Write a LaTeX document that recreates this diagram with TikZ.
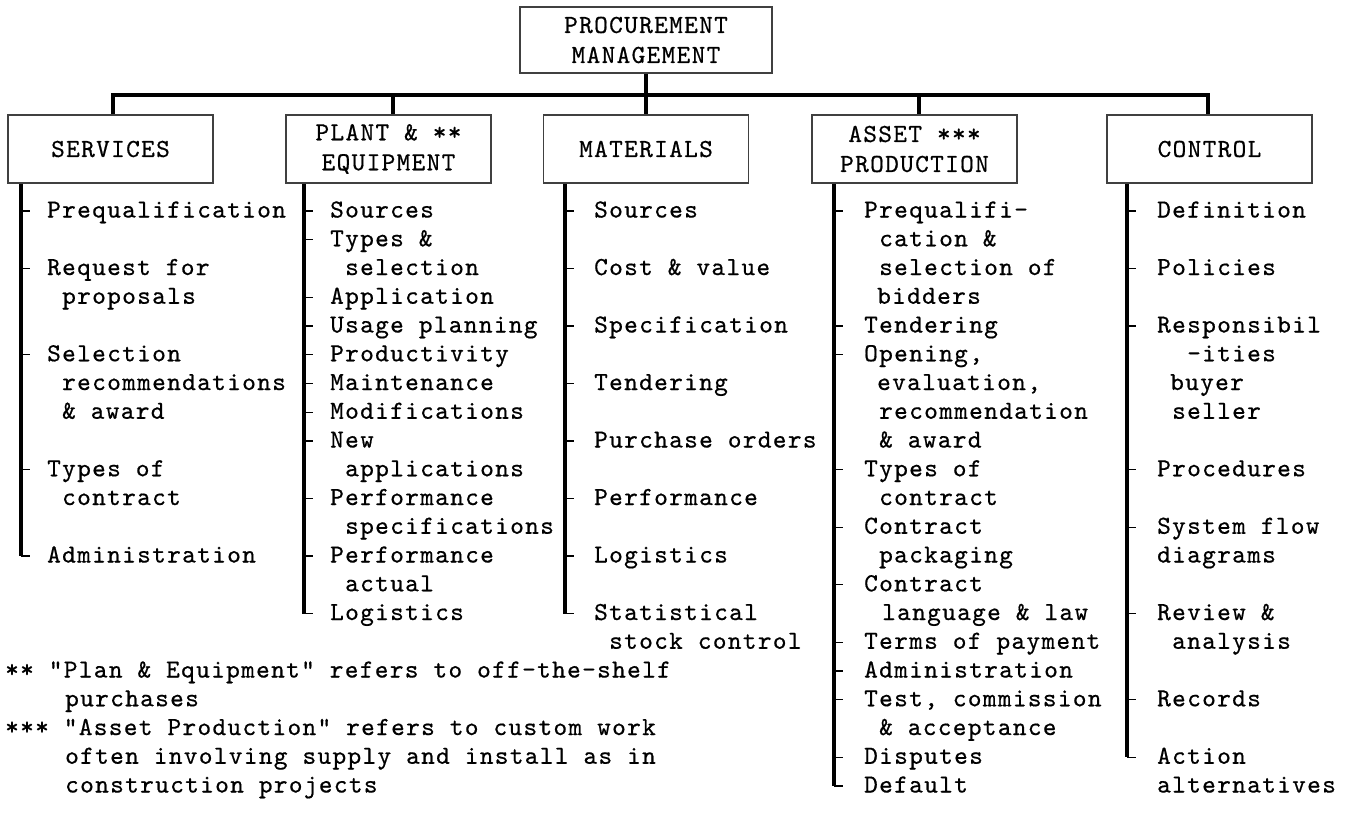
\documentclass[tikz,border=0pt]{standalone}
\usepackage{fontspec}
\usetikzlibrary{calc}
\newfontfamily\typewriter{lmmono10-regular.otf}[LetterSpace=5.2, FakeBold=0.6]
% one list entry: name, x, row number, text
\newcommand\colitem[4]{\node[item] (#1) at (#2,{217.5+28.75*#3}) {#4};}
\begin{document}
\begin{tikzpicture}[x=1pt,y=-1pt,
  every node/.style={font=\typewriter\fontsize{26}{30}\selectfont, text=black},
  headbox/.style={draw=black!75, line width=1.5pt, minimum width=205pt,
    minimum height=68pt, align=center, inner sep=0pt},
  item/.style={anchor=base west, inner sep=0pt},
  trunk/.style={line width=3.5pt},
  spine/.style={line width=3.5pt},
  tick/.style={line width=1.4pt}]
\useasboundingbox (0,0) rectangle (1352,833);

% boxes
\node[headbox, minimum width=252pt, minimum height=66pt] (top) at (646,40) {PROCUREMENT\\MANAGEMENT};
\node[headbox] (svc) at (110.5,149) {SERVICES};
\node[headbox] (pe)  at (388.5,149) {PLANT \& **\\EQUIPMENT};
\node[headbox] (mat) at (646,149)   {MATERIALS};
\node[headbox] (ap)  at (914.5,149) {ASSET ***\\PRODUCTION};
\node[headbox] (ctl) at (1209.5,149) {CONTROL};

% bus
\coordinate (busL) at (113,95);
\coordinate (busR) at (1208,95);
\coordinate (jP) at (393,95);
\coordinate (jA) at (919,95);
\draw[trunk] (top.south) -- (mat.north);
\draw[trunk] (busL |- svc.north) -- (busL) -- (busR) -- (busR |- ctl.north);
\draw[trunk] (jP) -- (jP |- pe.north);
\draw[trunk] (jA) -- (jA |- ap.north);

% SERVICES
\colitem{s1}{47}{0}{Prequalification}
\colitem{s2}{47}{2}{Request for}
\colitem{s2b}{62}{3}{proposals}
\colitem{s3}{47}{5}{Selection}
\colitem{s3b}{62}{6}{recommendations}
\colitem{s3c}{62}{7}{\& award}
\colitem{s4}{47}{9}{Types of}
\colitem{s4b}{62}{10}{contract}
\colitem{s5}{47}{12}{Administration}
\coordinate (sS) at (21,0);
\draw[spine] (svc.south -| sS) -- ($(sS |- s5.base)+(0,-6.5)$);
\foreach \n in {s1,s2,s3,s4,s5} \draw[tick] (sS |- \n.base) ++(0,-6.5) -- ++(9,0);

% PLANT & EQUIPMENT
\colitem{p1}{330}{0}{Sources}
\colitem{p2}{330}{1}{Types \&}
\colitem{p2b}{345}{2}{selection}
\colitem{p3}{330}{3}{Application}
\colitem{p4}{330}{4}{Usage planning}
\colitem{p5}{330}{5}{Productivity}
\colitem{p6}{330}{6}{Maintenance}
\colitem{p7}{330}{7}{Modifications}
\colitem{p8}{330}{8}{New}
\colitem{p8b}{345}{9}{applications}
\colitem{p9}{330}{10}{Performance}
\colitem{p9b}{345}{11}{specifications}
\colitem{p10}{330}{12}{Performance}
\colitem{p10b}{345}{13}{actual}
\colitem{p11}{330}{14}{Logistics}
\coordinate (sP) at (304,0);
\draw[spine] (pe.south -| sP) -- ($(sP |- p11.base)+(0,-6.5)$);
\foreach \n in {p1,p2,p3,p4,p5,p6,p7,p8,p9,p10,p11} \draw[tick] (sP |- \n.base) ++(0,-6.5) -- ++(9,0);

% MATERIALS
\colitem{m1}{594}{0}{Sources}
\colitem{m2}{594}{2}{Cost \& value}
\colitem{m3}{594}{4}{Specification}
\colitem{m4}{594}{6}{Tendering}
\colitem{m5}{594}{8}{Purchase orders}
\colitem{m6}{594}{10}{Performance}
\colitem{m7}{594}{12}{Logistics}
\colitem{m8}{594}{14}{Statistical}
\colitem{m8b}{609}{15}{stock control}
\coordinate (sM) at (565,0);
\draw[spine] (mat.south -| sM) -- ($(sM |- m8.base)+(0,-6.5)$);
\foreach \n in {m1,m2,m3,m4,m5,m6,m7,m8} \draw[tick] (sM |- \n.base) ++(0,-6.5) -- ++(9,0);

% ASSET PRODUCTION
\colitem{a1}{864}{0}{Prequalifi-}
\colitem{a1b}{879}{1}{cation \&}
\colitem{a1c}{879}{2}{selection of}
\colitem{a1d}{877}{3}{bidders}
\colitem{a2}{864}{4}{Tendering}
\colitem{a3}{864}{5}{Opening,}
\colitem{a3b}{877}{6}{evaluation,}
\colitem{a3c}{879}{7}{recommendation}
\colitem{a3d}{879}{8}{\& award}
\colitem{a4}{864}{9}{Types of}
\colitem{a4b}{879}{10}{contract}
\colitem{a5}{864}{11}{Contract}
\colitem{a5b}{879}{12}{packaging}
\colitem{a6}{864}{13}{Contract}
\colitem{a6b}{882}{14}{language \& law}
\colitem{a7}{864}{15}{Terms of payment}
\colitem{a8}{864}{16}{Administration}
\colitem{a9}{864}{17}{Test, commission}
\colitem{a9b}{879}{18}{\& acceptance}
\colitem{a10}{864}{19}{Disputes}
\colitem{a11}{864}{20}{Default}
\coordinate (sA) at (834,0);
\draw[spine] (ap.south -| sA) -- ($(sA |- a11.base)+(0,-6.5)$);
\foreach \n in {a1,a2,a3,a4,a5,a6,a7,a8,a9,a10,a11} \draw[tick] (sA |- \n.base) ++(0,-6.5) -- ++(9,0);

% CONTROL
\colitem{c1}{1157}{0}{Definition}
\colitem{c2}{1157}{2}{Policies}
\colitem{c3}{1157}{4}{Responsibil}
\colitem{c3b}{1187}{5}{-ities}
\colitem{c3c}{1170}{6}{buyer}
\colitem{c3d}{1172}{7}{seller}
\colitem{c4}{1157}{9}{Procedures}
\colitem{c5}{1157}{11}{System flow}
\colitem{c5b}{1157}{12}{diagrams}
\colitem{c6}{1157}{14}{Review \&}
\colitem{c6b}{1172}{15}{analysis}
\colitem{c7}{1157}{17}{Records}
\colitem{c8}{1157}{19}{Action}
\colitem{c8b}{1157}{20}{alternatives}
\coordinate (sC) at (1127,0);
\draw[spine] (ctl.south -| sC) -- ($(sC |- c8.base)+(0,-6.5)$);
\foreach \n in {c1,c2,c3,c4,c5,c6,c7,c8} \draw[tick] (sC |- \n.base) ++(0,-6.5) -- ++(9,0);

% footnotes
\colitem{f1}{5}{16}{** "Plan \& Equipment" refers to off-the-shelf}
\colitem{f1b}{65}{17}{purchases}
\colitem{f2}{5}{18}{*** "Asset Production" refers to custom work}
\colitem{f2b}{65}{19}{often involving supply and install as in}
\colitem{f2c}{65}{20}{construction projects}
\end{tikzpicture}
\end{document}
